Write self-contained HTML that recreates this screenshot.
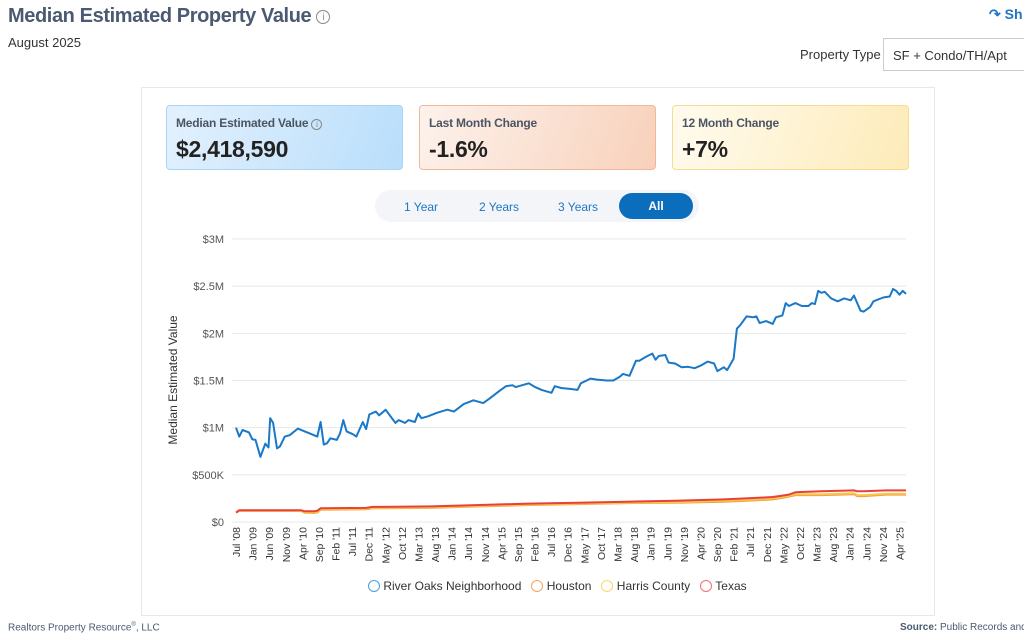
<!DOCTYPE html>
<html><head><meta charset="utf-8">
<style>
*{box-sizing:border-box;margin:0;padding:0}
body{width:1024px;height:641px;overflow:hidden;background:#fff;font-family:"Liberation Sans",sans-serif;position:relative;color:#333}
.abs{position:absolute}
.box{position:absolute;top:105px;width:237px;height:65px;border-radius:4px;padding:10px 0 0 9px}
.box .l{font-size:12px;font-weight:bold;color:#4b5563;letter-spacing:-0.2px}
.box .v{font-size:23px;font-weight:bold;color:#222;margin-top:6px;letter-spacing:-0.3px}
.tg{position:absolute;top:200px;font-size:12px;color:#1f77c4}
</style></head><body>
<div class="abs" style="left:8px;top:5px;font-size:20px;font-weight:bold;color:#4a5a70;letter-spacing:-0.4px">Median Estimated Property Value <span style="display:inline-block;width:14px;height:14px;border:1px solid #888;border-radius:50%;font-size:10px;color:#888;text-align:center;line-height:13px;vertical-align:middle;font-weight:normal">i</span></div>
<div class="abs" style="left:989px;top:6px;font-size:14px;font-weight:bold;color:#1f77c4">↷ Sh</div>
<div class="abs" style="left:8px;top:35px;font-size:13px;color:#333">August 2025</div>
<div class="abs" style="left:800px;top:47px;font-size:13px;color:#333">Property Type</div>
<div class="abs" style="left:883px;top:38px;width:150px;height:33px;border:1px solid #ccc;font-size:13px;padding:9px 0 0 9px;color:#333">SF + Condo/TH/Apt</div>
<div class="abs" style="left:141px;top:87px;width:794px;height:529px;border:1px solid #e6e8ec"></div>
<div class="box" style="left:166px;border:1px solid #a9d4f5;background:linear-gradient(110deg,#e3f1fd,#b9defb)"><div class="l">Median Estimated Value <span style="display:inline-block;width:11px;height:11px;border:1px solid #888;border-radius:50%;font-size:8px;text-align:center;line-height:10px;font-weight:normal;color:#888">i</span></div><div class="v">$2,418,590</div></div>
<div class="box" style="left:419px;border:1px solid #efb998;background:linear-gradient(110deg,#fdf2ec,#f8d1bb)"><div class="l">Last Month Change</div><div class="v">-1.6%</div></div>
<div class="box" style="left:672px;border:1px solid #f5dc8e;background:linear-gradient(110deg,#fffbef,#fdebb8)"><div class="l">12 Month Change</div><div class="v">+7%</div></div>
<div class="abs" style="left:375px;top:190px;width:324px;height:32px;border-radius:16px;background:#f3f5f8"></div>
<div class="tg" style="left:404px">1 Year</div>
<div class="tg" style="left:479px">2 Years</div>
<div class="tg" style="left:558px">3 Years</div>
<div class="abs" style="left:619px;top:193px;width:74px;height:26px;border-radius:13px;background:#0a6ebd;color:#fff;font-size:12px;font-weight:bold;text-align:center;line-height:26px">All</div>
<svg class="abs" style="left:0;top:0" width="1024" height="641" id="ch"></svg>
<div class="abs" style="left:368px;top:579px;font-size:12px;color:#333;white-space:nowrap">
<span><span style="display:inline-block;width:12px;height:12px;border:1px solid #4a9de0;border-radius:50%;vertical-align:-2px"></span> River Oaks Neighborhood</span>&nbsp;&nbsp;
<span><span style="display:inline-block;width:12px;height:12px;border:1px solid #f4a460;border-radius:50%;vertical-align:-2px"></span> Houston</span>&nbsp;&nbsp;
<span><span style="display:inline-block;width:12px;height:12px;border:1px solid #f9d56b;border-radius:50%;vertical-align:-2px"></span> Harris County</span>&nbsp;&nbsp;
<span><span style="display:inline-block;width:12px;height:12px;border:1px solid #ef7070;border-radius:50%;vertical-align:-2px"></span> Texas</span></div>
<div class="abs" style="left:8px;top:622px;font-size:10px;color:#4a5a70">Realtors Property Resource<sup style="font-size:6px">®</sup>, LLC</div>
<div class="abs" style="left:900px;top:622px;font-size:10px;color:#4a5a70;white-space:nowrap"><b>Source:</b> Public Records and</div>
<script>
const tickLabels=["Jul '08","Jan '09","Jun '09","Nov '09","Apr '10","Sep '10","Feb '11","Jul '11","Dec '11","May '12","Oct '12","Mar '13","Aug '13","Jan '14","Jun '14","Nov '14","Apr '15","Sep '15","Feb '16","Jul '16","Dec '16","May '17","Oct '17","Mar '18","Aug '18","Jan '19","Jun '19","Nov '19","Apr '20","Sep '20","Feb '21","Jul '21","Dec '21","May '22","Oct '22","Mar '23","Aug '23","Jan '24","Jun '24","Nov '24","Apr '25"];
const yTicks=[0,500000,1000000,1500000,2000000,2500000,3000000];
const yTickLabels=["$0","$500K","$1M","$1.5M","$2M","$2.5M","$3M"];
const riverMonths=[0,1,2,4,5,6,7.5,9,10,10.5,11.4,12.6,13.5,15,16.5,19,25,26,27,28,29,31,32,33,34,36,37,39,40,41,43,44,46,49,50,52,53,55,56,57,59,62,65,67,70,73,76,78,81,83,85,86,88,90,92,94,97,98,100,103,105,106,109,111,114,116,118,119,121,123,124,126,128,129,130,132,133,135,137,139,141,143,145,147,148,150,151,153,154,155,157,159,160,161,163,165,166,168,169,170,172,174,176,177,178,179,180,181,183,185,187,189,190,192,193,195,196,199,201,202,203,204,205,206];
const riverValues=[1.00,0.905,0.975,0.95,0.877,0.87,0.69,0.83,0.79,1.10,1.05,0.78,0.80,0.905,0.92,0.99,0.905,1.06,0.82,0.835,0.887,0.87,0.94,1.08,0.96,0.93,0.905,1.06,0.985,1.14,1.17,1.13,1.19,1.05,1.08,1.05,1.08,1.06,1.15,1.10,1.12,1.16,1.19,1.17,1.25,1.29,1.26,1.31,1.39,1.44,1.45,1.43,1.45,1.47,1.43,1.40,1.37,1.44,1.42,1.41,1.40,1.47,1.52,1.51,1.50,1.50,1.54,1.57,1.55,1.71,1.71,1.75,1.785,1.72,1.76,1.77,1.69,1.68,1.64,1.645,1.63,1.66,1.70,1.68,1.60,1.64,1.61,1.73,2.05,2.085,2.18,2.17,2.18,2.11,2.13,2.10,2.17,2.19,2.32,2.29,2.32,2.29,2.29,2.32,2.31,2.45,2.43,2.44,2.37,2.34,2.37,2.35,2.40,2.24,2.23,2.28,2.34,2.38,2.39,2.47,2.45,2.41,2.45,2.418];
const otherMonths=[0,1,20,21,24,25,26,40,42,45,60,75,90,105,120,135,150,160,165,168,170,172,180,190,191,193,200,206];
const texasValues=[0.10,0.125,0.125,0.115,0.115,0.12,0.145,0.15,0.16,0.16,0.165,0.18,0.195,0.205,0.215,0.225,0.24,0.255,0.265,0.28,0.29,0.315,0.325,0.335,0.325,0.325,0.335,0.335];
const harrisValues=[0.10,0.12,0.12,0.105,0.10,0.105,0.135,0.14,0.15,0.15,0.155,0.17,0.185,0.195,0.205,0.21,0.225,0.24,0.25,0.265,0.28,0.295,0.295,0.305,0.285,0.285,0.30,0.30];
const houstonValues=[0.10,0.118,0.118,0.10,0.095,0.10,0.13,0.135,0.145,0.145,0.15,0.165,0.18,0.19,0.2,0.205,0.215,0.23,0.24,0.255,0.27,0.285,0.285,0.295,0.275,0.275,0.29,0.29];
const NS='http://www.w3.org/2000/svg',svg=document.getElementById('ch');
const X0=236,X1=906,Y0=522,Y1=239;
const xs=m=>X0+(X1-X0)*m/206, ys=v=>Y0-(Y0-Y1)*v/3000000;
const tickStep=5.1;
function mk(t,a){const e=document.createElementNS(NS,t);for(const k in a)e.setAttribute(k,a[k]);svg.appendChild(e);return e;}
yTicks.forEach((v,i)=>{
 const g=mk('line',{x1:232,x2:906,y1:ys(v),y2:ys(v),stroke:'#e8e8e8','stroke-width':1});
 
 
 const t=mk('text',{x:224,y:ys(v)+4,'text-anchor':'end','font-size':11,fill:'#555','font-family':'Liberation Sans, sans-serif'});
 t.textContent=yTickLabels[i];
 
 
});
tickLabels.forEach((l,i)=>{
 const x=xs(i*tickStep)+4;
 const t=mk('text',{x:x,y:527,transform:`rotate(-90 ${x} 527)`,'text-anchor':'end','font-size':10.5,fill:'#333','font-family':'Liberation Sans, sans-serif'});
 t.textContent=l;
 
 
});
const yt=mk('text',{x:177,y:380,transform:'rotate(-90 177 380)','text-anchor':'middle','font-size':12,fill:'#333','font-family':'Liberation Sans, sans-serif'});
yt.textContent='Median Estimated Value';


function line(ms,vs,c,name){
 const d=ms.map((m,i)=>(i?'L':'M')+xs(m).toFixed(1)+','+ys(vs[i]*1e6).toFixed(1)).join('');
 const p=mk('path',{d:d,fill:'none',stroke:c,'stroke-width':2,'stroke-linejoin':'round'});
 
 
}
line(otherMonths,houstonValues,'#f39c4a','houston-line');
line(otherMonths,harrisValues,'#f7c948','harris-county-line');
line(otherMonths,texasValues,'#e8403a','texas-line');
line(riverMonths,riverValues,'#1a78c8','river-oaks-line');
</script>
</body></html>
